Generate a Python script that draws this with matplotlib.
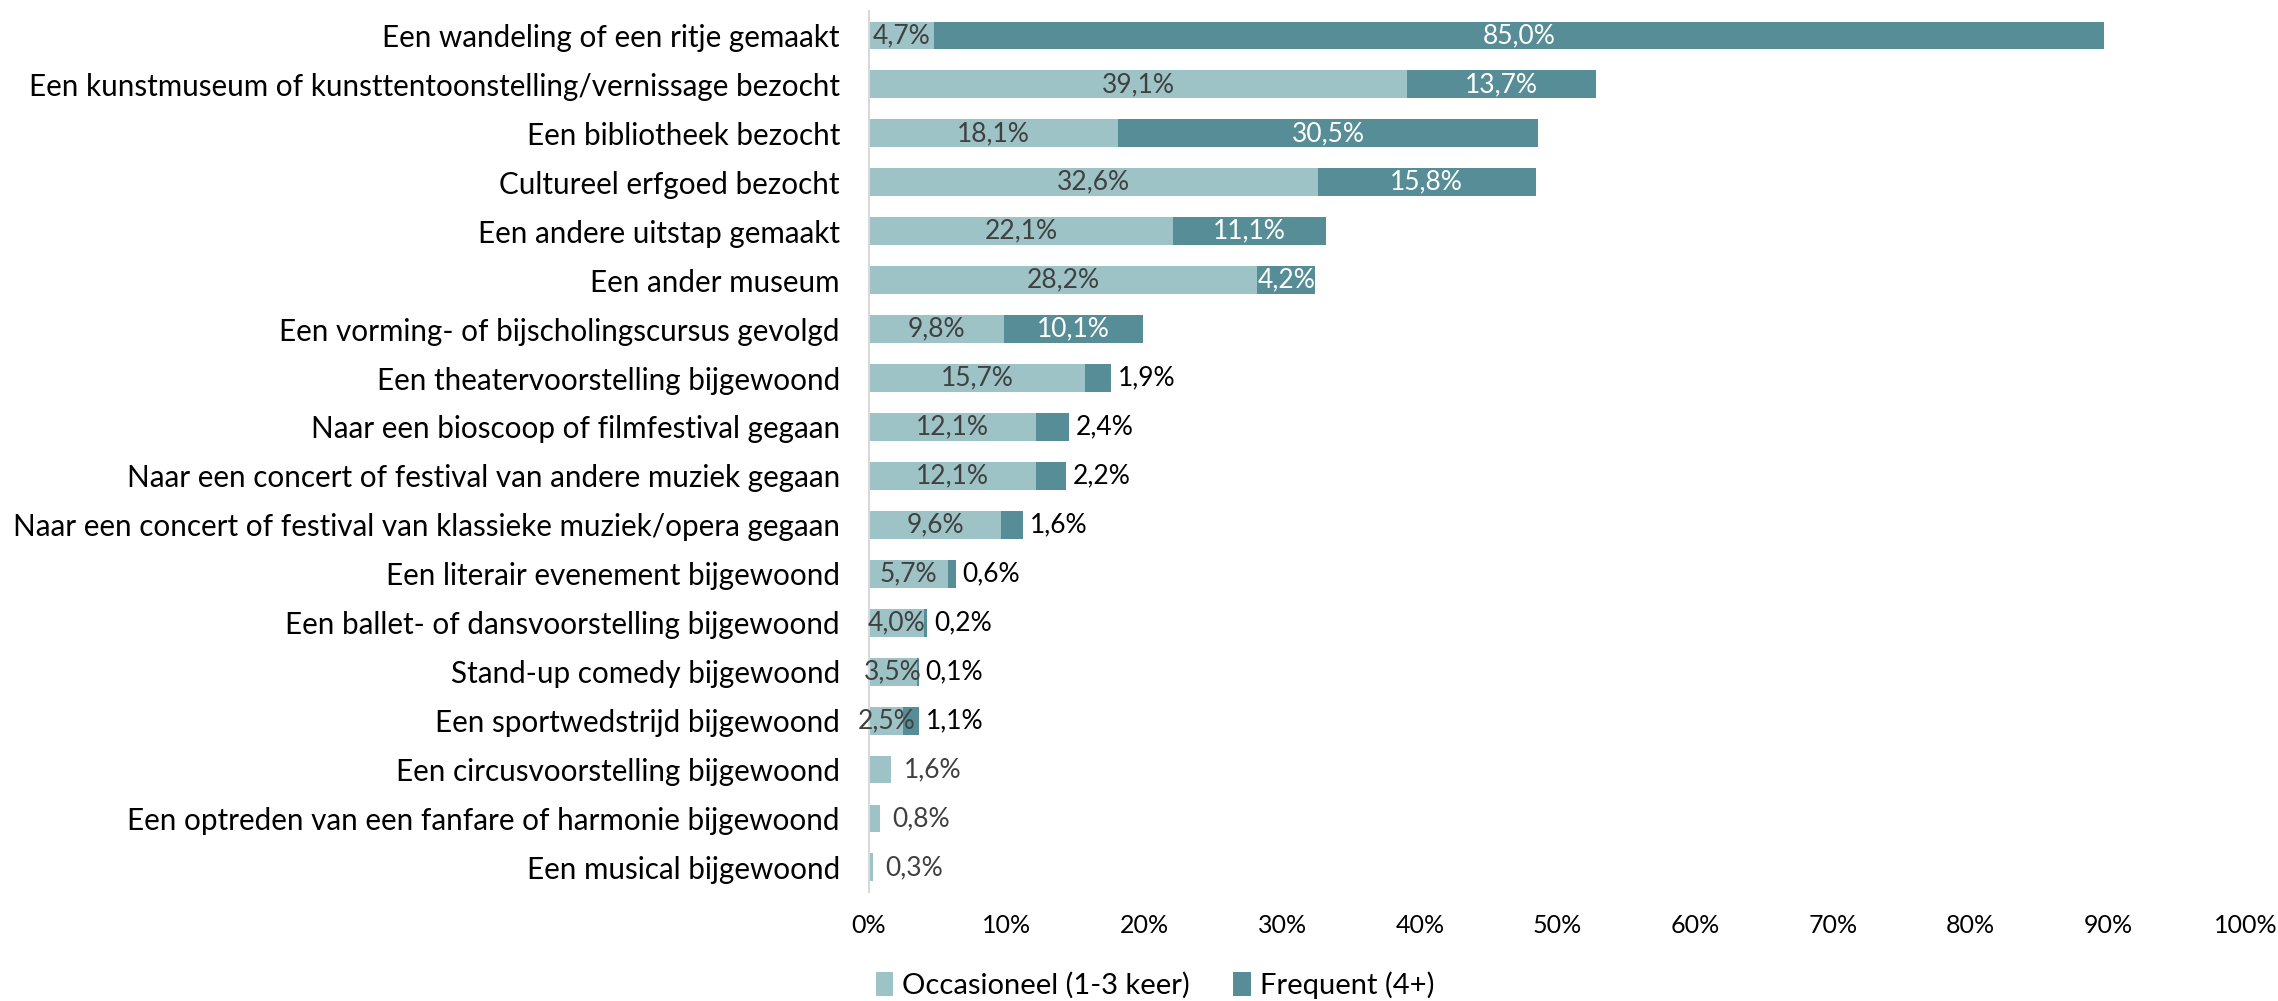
import numpy as np
import matplotlib
matplotlib.use("Agg")
import matplotlib.pyplot as plt

plt.rcParams['font.family'] = ['Lato', 'DejaVu Sans']

categories = [
    "Een wandeling of een ritje gemaakt",
    "Een kunstmuseum of kunsttentoonstelling/vernissage bezocht",
    "Een bibliotheek bezocht",
    "Cultureel erfgoed bezocht",
    "Een andere uitstap gemaakt",
    "Een ander museum",
    "Een vorming- of bijscholingscursus gevolgd",
    "Een theatervoorstelling bijgewoond",
    "Naar een bioscoop of filmfestival gegaan",
    "Naar een concert of festival van andere muziek gegaan",
    "Naar een concert of festival van klassieke muziek/opera gegaan",
    "Een literair evenement bijgewoond",
    "Een ballet- of dansvoorstelling bijgewoond",
    "Stand-up comedy bijgewoond",
    "Een sportwedstrijd bijgewoond",
    "Een circusvoorstelling bijgewoond",
    "Een optreden van een fanfare of harmonie bijgewoond",
    "Een musical bijgewoond",
]
occasioneel = [4.7, 39.1, 18.1, 32.6, 22.1, 28.2, 9.8, 15.7, 12.1, 12.1, 9.6, 5.7, 4.0, 3.5, 2.5, 1.6, 0.8, 0.3]
frequent = [85.0, 13.7, 30.5, 15.8, 11.1, 4.2, 10.1, 1.9, 2.4, 2.2, 1.6, 0.6, 0.2, 0.1, 1.1, 0.0, 0.0, 0.0]
series_names = ["Occasioneel (1-3 keer)", "Frequent (4+)"]

LIGHT = "#9DC3C6"
DARK = "#568D96"

def pct(v):
    return f"{v:.1f}%".replace(".", ",")

fig = plt.figure(figsize=(22.78, 10.01), dpi=100)
ax = fig.add_axes([0.3815, 0.109, 0.6045, 0.880])

y = np.arange(len(categories))
occ = np.array(occasioneel)
frq = np.array(frequent)
h = 0.57
ax.barh(y, occ, height=h, color=LIGHT, label=series_names[0])
ax.barh(y, frq, height=h, left=occ, color=DARK, label=series_names[1])

fs = 19
for i in range(len(categories)):
    o, f = occ[i], frq[i]
    if f == 0:
        ax.text(o + 0.9, i, pct(o), va="center", ha="left", color="#404040", fontsize=fs)
        continue
    ax.text(o / 2, i, pct(o), va="center", ha="center", color="#404040", fontsize=fs)
    if f >= 4:
        ax.text(o + f / 2, i, pct(f), va="center", ha="center", color="white", fontsize=fs)
    else:
        ax.text(o + f + 0.5, i, pct(f), va="center", ha="left", color="black", fontsize=fs)

ax.set_xlim(0, 100)
ax.set_ylim(len(categories) - 0.5, -0.5)
ax.set_yticks(y)
ax.set_yticklabels(categories, fontsize=21.3)
ax.set_xticks(np.arange(0, 101, 10))
ax.set_xticklabels([f"{v}%" for v in range(0, 101, 10)], fontsize=fs - 1)
ax.tick_params(axis="both", length=0)
ax.tick_params(axis="y", pad=21)
ax.tick_params(axis="x", pad=16)
for s in ["top", "right", "bottom"]:
    ax.spines[s].set_visible(False)
ax.spines["left"].set_color("#D9D9D9")
ax.spines["left"].set_linewidth(1.5)

fig.legend(loc="lower center", bbox_to_anchor=(0.507, -0.024), ncol=2, frameon=False,
           fontsize=21, handlelength=0.6, handleheight=0.9, handletextpad=0.3, columnspacing=1.5)

fig.savefig("out.png", dpi=100)
